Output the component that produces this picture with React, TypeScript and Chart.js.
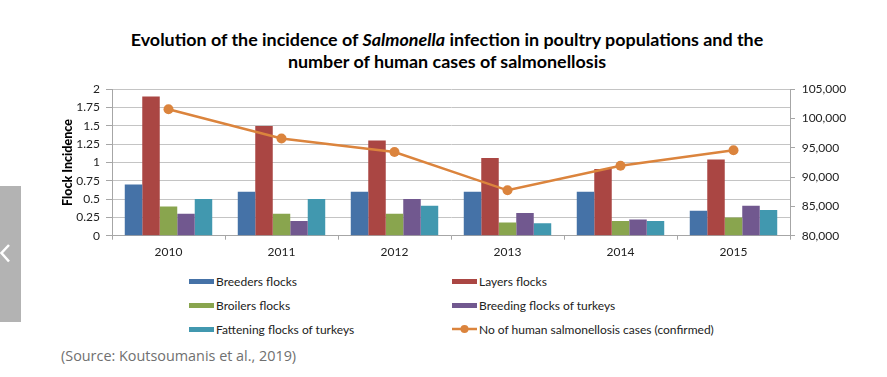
import React, { useEffect, useRef } from "react";
import { Chart, registerables } from "chart.js";

Chart.register(...registerables);

const years = ["2010", "2011", "2012", "2013", "2014", "2015"];
const breedersFlocks = [0.7, 0.6, 0.6, 0.6, 0.6, 0.34];
const layersFlocks = [1.9, 1.5, 1.3, 1.06, 0.91, 1.04];
const broilersFlocks = [0.4, 0.3, 0.3, 0.18, 0.2, 0.25];
const breedingTurkeys = [0.3, 0.2, 0.5, 0.31, 0.22, 0.41];
const fatteningTurkeys = [0.5, 0.5, 0.41, 0.17, 0.2, 0.35];
const humanCases = [101600, 96600, 94300, 87750, 91950, 94600];

const leftTickLabels = ["0", "0.25", "0.5", "0.75", "1", "1.25", "1.5", "1.75", "2"];
const rightTickLabels = ["80,000", "85,000", "90,000", "95,000", "100,000", "105,000"];

const seriesNames = [
  "Breeders flocks",
  "Layers flocks",
  "Broilers flocks",
  "Breeding flocks of turkeys",
  "Fattening flocks of turkeys",
  "No of human salmonellosis cases (confirmed)",
];
const seriesColors = ["#4572A7", "#AA4643", "#89A54E", "#71588F", "#4198AF", "#DB843D"];

const FONT = "Lato, 'Noto Sans', sans-serif";

export default function App() {
  const ref = useRef<HTMLCanvasElement | null>(null);

  useEffect(() => {
    if (!ref.current) return;
    const barSeries = [breedersFlocks, layersFlocks, broilersFlocks, breedingTurkeys, fatteningTurkeys];
    const chart = new Chart(ref.current, {
      data: {
        labels: years,
        datasets: [
          {
            type: "line" as const,
            label: seriesNames[5],
            data: humanCases,
            yAxisID: "y1",
            borderColor: seriesColors[5],
            backgroundColor: seriesColors[5],
            borderWidth: 2.5,
            pointRadius: 5,
            pointBorderWidth: 0,
            pointBackgroundColor: seriesColors[5],
            order: 0,
          },
          ...barSeries.map((d, i) => ({
            type: "bar" as const,
            label: seriesNames[i],
            data: d,
            yAxisID: "y",
            backgroundColor: seriesColors[i],
            borderWidth: 0,
            categoryPercentage: 0.774,
            barPercentage: 1,
            order: 1,
          })),
        ],
      },
      options: {
        responsive: false,
        animation: false,
        devicePixelRatio: 1,
        layout: { padding: { top: 19.3, left: 0, right: 0, bottom: 0 } },
        plugins: {
          legend: { display: false },
          tooltip: { enabled: false },
          title: { display: false },
        },
        scales: {
          x: {
            type: "category",
            offset: true,
            grid: {
              offset: true,
              drawOnChartArea: false,
              drawTicks: true,
              tickLength: 4,
              color: "#A6A6A6",
            },
            border: { color: "#A6A6A6" },
            ticks: {
              padding: 5,
              color: "#222",
              font: { family: FONT, size: 12 },
              maxRotation: 0,
            },
            afterFit: (s: any) => {
              s.height = 34.3;
            },
          },
          y: {
            type: "linear",
            position: "left",
            min: 0,
            max: 2,
            ticks: {
              stepSize: 0.25,
              padding: 6,
              color: "#222",
              font: { family: FONT, size: 12 },
              callback: (_v: any, i: number) => leftTickLabels[i],
            },
            grid: { color: "#C4C4C4", tickColor: "#A6A6A6", tickLength: 6 },
            border: { color: "#A6A6A6" },
            title: {
              display: true,
              text: "Flock Incidence",
              color: "#000",
              font: { family: FONT, size: 12.5, weight: "900" },
              padding: { top: 60, bottom: 0 },
            },
            afterFit: (s: any) => {
              s.width = 112;
            },
          },
          y1: {
            type: "linear",
            position: "right",
            min: 80000,
            max: 105000,
            ticks: {
              stepSize: 5000,
              padding: 6.7,
              color: "#222",
              font: { family: FONT, size: 12 },
              callback: (_v: any, i: number) => rightTickLabels[i],
            },
            grid: { drawOnChartArea: false, color: "#A6A6A6", tickLength: 5 },
            border: { color: "#A6A6A6" },
            afterFit: (s: any) => {
              s.width = 97;
            },
          },
        },
      },
    });
    return () => chart.destroy();
  }, []);

  const legendPos = [
    { x: 189, y: 281 },
    { x: 452, y: 281 },
    { x: 189, y: 305 },
    { x: 452, y: 305 },
    { x: 189, y: 329 },
    { x: 452, y: 329 },
  ];

  return (
    <div style={{ position: "absolute", left: 0, top: 0, width: 887, height: 377, background: "#fff", overflow: "hidden" }}>
      <div
        style={{
          position: "absolute",
          left: 0,
          top: 28,
          width: 894,
          textAlign: "center",
          fontFamily: FONT,
          fontWeight: 700,
          fontSize: 17.9,
          lineHeight: "22px",
          color: "#000",
        }}
      >
        <div>
          Evolution of the incidence of <i>Salmonella</i> infection in poultry populations and the
        </div>
        <div>number of human cases of salmonellosis</div>
      </div>
      <canvas
        ref={ref}
        width={887}
        height={200}
        style={{ position: "absolute", left: 0, top: 70, width: 887, height: 200 }}
      />
      {seriesNames.map((name, i) => (
        <div
          key={name}
          style={{
            position: "absolute",
            left: legendPos[i].x,
            top: legendPos[i].y - 8,
            height: 16,
            display: "flex",
            alignItems: "center",
            fontFamily: FONT,
            fontSize: 12,
            color: "#222",
            whiteSpace: "nowrap",
          }}
        >
          {i < 5 ? (
            <span style={{ display: "inline-block", width: 25, height: 5, background: seriesColors[i], marginRight: 2 }} />
          ) : (
            <svg width={25} height={10} style={{ marginRight: 2 }}>
              <line x1={0} y1={5} x2={25} y2={5} stroke={seriesColors[5]} strokeWidth={2.5} />
              <circle cx={12.5} cy={5} r={4} fill={seriesColors[5]} />
            </svg>
          )}
          <span>{name}</span>
        </div>
      ))}
      <div
        style={{
          position: "absolute",
          left: 61,
          top: 347,
          fontFamily: "'Open Sans', sans-serif",
          fontSize: 14.4,
          lineHeight: "18px",
          color: "#707070",
          whiteSpace: "nowrap",
        }}
      >
        (Source: Koutsoumanis et al., 2019)
      </div>
      <div style={{ position: "absolute", left: 0, top: 186, width: 21, height: 136, background: "#B3B3B3" }}>
        <svg width={21} height={136} style={{ position: "absolute", left: 0, top: 0 }}>
          <polyline points="9,59 1.5,67 9,75.5" fill="none" stroke="#fff" strokeWidth={2.5} />
        </svg>
      </div>
    </div>
  );
}
